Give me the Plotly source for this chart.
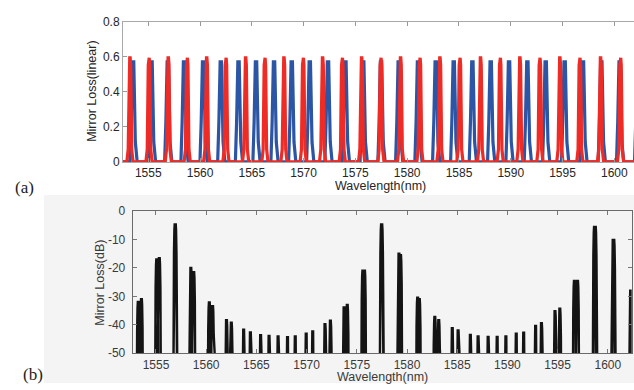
import plotly.graph_objects as go

# ---------------- data ----------------
red_nm = [1553.23, 1555.07, 1556.93, 1558.76, 1560.64, 1562.50, 1564.40, 1566.26,
          1568.10, 1569.96, 1571.83, 1573.73, 1575.60, 1577.46, 1579.36, 1581.23,
          1583.16, 1585.09, 1587.08, 1588.98, 1590.88, 1592.81, 1594.74, 1596.67,
          1598.67, 1600.60, 1602.50]
red_loss = [0.595, 0.595, 0.595, 0.595, 0.595, 0.595, 0.595, 0.595, 0.595, 0.595,
            0.595, 0.595, 0.595, 0.595, 0.595, 0.595, 0.595, 0.595, 0.595, 0.595,
            0.595, 0.595, 0.595, 0.595, 0.595, 0.595, 0.595]
blue_nm = [1553.55, 1555.33, 1556.90, 1558.47, 1560.31, 1562.02, 1563.73, 1565.42,
           1567.16, 1568.87, 1570.61, 1572.37, 1574.05, 1575.77, 1577.49, 1579.20,
           1581.06, 1582.77, 1584.51, 1586.31, 1588.08, 1589.85, 1591.62, 1593.39,
           1595.22, 1596.99, 1598.76, 1600.53, 1602.27]
blue_loss = [0.572, 0.572, 0.572, 0.572, 0.572, 0.572, 0.572, 0.572, 0.572, 0.572,
             0.572, 0.572, 0.572, 0.572, 0.572, 0.572, 0.572, 0.572, 0.572, 0.572,
             0.572, 0.572, 0.572, 0.572, 0.572, 0.572, 0.572, 0.572, 0.572]
# combined mirror loss in dB, at the red and at the blue peaks
red_db = [-32.0, -17.0, -4.7, -21.5, -33.5, -39.3, -42.7, -44.0, -44.4, -43.2,
          -39.8, -33.9, -21.0, -4.7, -15.5, -31.0, -38.4, -42.0, -44.1, -44.3,
          -43.2, -40.4, -35.2, -24.6, -5.6, -10.2, -29.0]
blue_db = [-31.0, -16.6, -4.7, -20.0, -32.2, -38.4, -41.8, -43.7, -44.1, -44.1,
           -42.4, -38.6, -33.0, -21.0, -4.7, -15.0, -30.5, -37.3, -41.2, -43.6,
           -44.3, -44.1, -42.8, -39.5, -34.4, -24.6, -5.6, -10.2, -28.0]

x_ticks = [1555, 1560, 1565, 1570, 1575, 1580, 1585, 1590, 1595, 1600]
lin_ticks = [0, 0.2, 0.4, 0.6, 0.8]
lin_labels = ["0", "0.2", "0.4", "0.6", "0.8"]
db_ticks = [0, -10, -20, -30, -40, -50]
db_labels = ["0", "-10", "-20", "-30", "-40", "-50"]

# ---------------- styling / peak shapes ----------------
W, H = 634, 390
TOP_X = (1552.56, 1601.9)
BOT_X = (1552.68, 1602.38)

RED_SHAPE = [(-0.30, 0.0), (-0.17, 0.12), (-0.07, 0.93), (-0.02, 1.0),
             (0.02, 1.0), (0.07, 0.93), (0.17, 0.12), (0.30, 0.0)]
BLUE_SHAPE = [(-0.32, 0.0), (-0.20, 0.4), (-0.13, 0.97), (-0.08, 1.0),
              (0.05, 1.0), (0.12, 0.6), (0.20, 0.2), (0.38, 0.0)]
# (dx in nm, depth below the peak in dB)
DB_SHAPE = [(-0.20, 80), (-0.18, 45), (-0.15, 25), (-0.11, 10), (-0.07, 2),
            (-0.04, 0), (0.04, 0), (0.07, 2), (0.11, 10), (0.15, 25),
            (0.18, 45), (0.20, 80)]


def lin_path(centers, heights, shape, xr):
    xs, ys = [xr[0]], [0.0]
    for c, h in sorted(zip(centers, heights)):
        for dx, f in shape:
            xs.append(c + dx)
            ys.append(f * h)
    xs.append(xr[1]); ys.append(0.0)
    return xs, ys


def db_path(centers, heights, shape):
    xs, ys = [], []
    for c, h in sorted(zip(centers, heights)):
        for dx, d in shape:
            xs.append(c + dx)
            ys.append(h - d)
    return xs, ys


fig = go.Figure()

bx, by = lin_path(blue_nm, blue_loss, BLUE_SHAPE, TOP_X)
fig.add_trace(go.Scatter(x=bx, y=by, mode="lines", xaxis="x", yaxis="y",
                         line=dict(color="#2c56a5", width=3.2), hoverinfo="skip"))
rx, ry = lin_path(red_nm, red_loss, RED_SHAPE, TOP_X)
fig.add_trace(go.Scatter(x=rx, y=ry, mode="lines", xaxis="x", yaxis="y",
                         line=dict(color="#ee2b25", width=3.2), hoverinfo="skip"))

dx_, dy_ = db_path(red_nm + blue_nm, red_db + blue_db, DB_SHAPE)
fig.add_trace(go.Scatter(x=dx_, y=dy_, mode="lines", xaxis="x2", yaxis="y2",
                         line=dict(color="#141414", width=2.4), hoverinfo="skip"))

font = "Arial, Liberation Sans, sans-serif"
tick_top = dict(family=font, size=12, color="#262626")
tick_bot = dict(family=font, size=12, color="#3a3a3a")

fig.update_layout(
    width=W, height=H, margin=dict(l=0, r=0, t=0, b=0),
    paper_bgcolor="white", plot_bgcolor="rgba(0,0,0,0)", showlegend=False,
    xaxis=dict(domain=[123 / W, 1.0], range=list(TOP_X), anchor="y",
               tickvals=x_ticks, ticks="inside", ticklen=4, tickcolor="#999",
               showline=True, linecolor="#a8a8a8", linewidth=1, mirror="ticks",
               showgrid=False, zeroline=False, tickfont=tick_top),
    yaxis=dict(domain=[1 - 160.7 / H, 1 - 15.5 / H], range=[0, 0.8], anchor="x",
               tickvals=lin_ticks, ticktext=lin_labels, ticks="inside", ticklen=4,
               tickcolor="#999", showline=True, linecolor="#a8a8a8", linewidth=1,
               mirror=False, showgrid=False, zeroline=False, tickfont=tick_top),
    xaxis2=dict(domain=[132.7 / W, 631.7 / W], range=list(BOT_X), anchor="y2",
                tickvals=x_ticks, ticks="inside", ticklen=4, tickcolor="#777",
                showline=True, linecolor="#6a6a6a", linewidth=1, mirror="ticks",
                showgrid=False, zeroline=False, tickfont=tick_bot),
    yaxis2=dict(domain=[1 - 359 / H, 1 - 211.7 / H], range=[-50, 0], anchor="x2",
                tickvals=db_ticks, ticktext=db_labels, ticks="inside", ticklen=4,
                tickcolor="#777", showline=True, linecolor="#6a6a6a", linewidth=1,
                mirror="ticks", showgrid=False, zeroline=False, tickfont=tick_bot,
                ticklabelstandoff=4),
    shapes=[dict(type="rect", xref="paper", yref="paper", layer="below",
                 x0=44 / W, x1=1.0, y0=0, y1=1 - 195 / H,
                 fillcolor="#f4f4f4", line=dict(width=0))],
)


def ann(text, x, y, size=12.5, angle=0, fam=font, color="#262626"):
    fig.add_annotation(text=text, xref="paper", yref="paper", x=x / W, y=1 - y / H,
                       xanchor="center", yanchor="middle", showarrow=False,
                       textangle=angle, font=dict(family=fam, size=size, color=color))


ann("Mirror Loss(linear)", 92, 88, angle=-90)
ann("Wavelength(nm)", 380, 186)
ann("Mirror Loss(dB)", 100, 286, angle=-90, color="#3a3a3a")
ann("Wavelength(nm)", 382, 383.5, color="#3a3a3a")
serif = "Times New Roman, Liberation Serif, serif"
ann("(a)", 24, 187, size=17, fam=serif, color="#222")
ann("(b)", 33, 381, size=17, fam=serif, color="#222")

fig.write_html("out.html")
